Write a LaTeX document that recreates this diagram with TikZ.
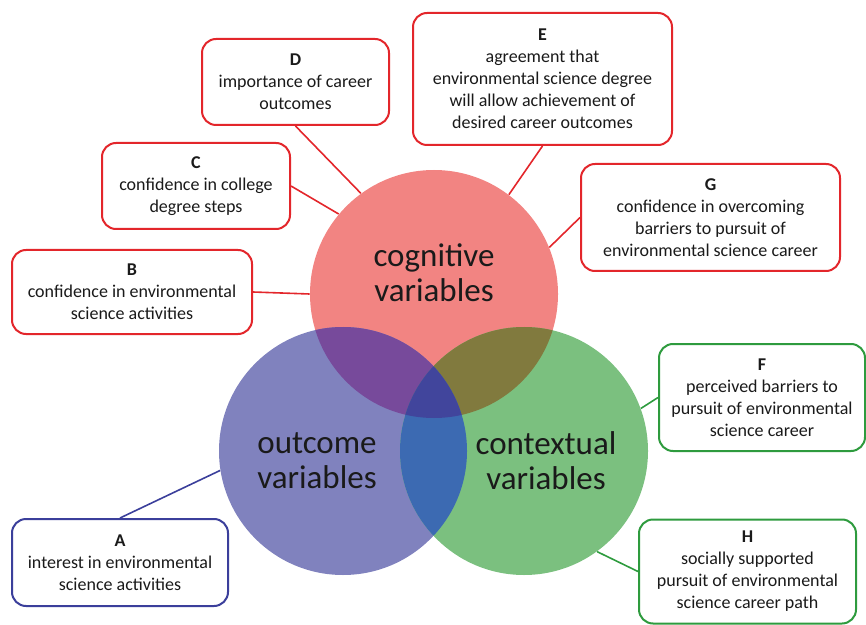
\documentclass[tikz,border=0pt]{standalone}
\usepackage{fontspec}
\setmainfont{Carlito}
\usetikzlibrary{positioning}
\definecolor{cogred}{HTML}{F28482}
\definecolor{outblue}{HTML}{8082BE}
\definecolor{ctxgreen}{HTML}{7BC07F}
\definecolor{cogout}{HTML}{774A9B}
\definecolor{cogctx}{HTML}{817A3E}
\definecolor{outctx}{HTML}{3C6AB2}
\definecolor{allthree}{HTML}{41459C}
\definecolor{redline}{HTML}{E3262B}
\definecolor{blueline}{HTML}{3B3F9B}
\definecolor{greenline}{HTML}{2E9B3E}
\definecolor{ink}{HTML}{1A1A1A}

\begin{document}
\begin{tikzpicture}[x=0.5pt,y=-0.5pt,
  varcircle/.style={circle,minimum size=124pt,inner sep=0pt},
  varlabel/.style={font=\fontsize{16.5}{17.5}\selectfont,align=center,text=ink},
  itembox/.style={draw,line width=1pt,rounded corners=7pt,fill=white,align=center,
    font=\fontsize{9}{11}\selectfont,text=ink,inner sep=0pt},
  link/.style={line width=0.8pt}]
\useasboundingbox (0,0) rectangle (866,625);

% three variable groups
\node[varcircle,fill=cogred] (cog) at (434,294) {};
\node[varcircle,fill=outblue] (outc) at (343,451) {};
\node[varcircle,fill=ctxgreen] (ctx) at (524,451) {};

% overlaps, painted region by region
\begin{scope}
  \clip (434,294) circle[radius=62pt];
  \fill[cogout] (343,451) circle[radius=62pt];
  \fill[cogctx] (524,451) circle[radius=62pt];
\end{scope}
\begin{scope}
  \clip (343,451) circle[radius=62pt];
  \fill[outctx] (524,451) circle[radius=62pt];
  \clip (434,294) circle[radius=62pt];
  \fill[allthree] (524,451) circle[radius=62pt];
\end{scope}

\node[varlabel] (coglbl) at (434,273) {cognitive\\variables};
\node[varlabel] (outlbl) at (317,461) {outcome\\variables};
\node[varlabel] (ctxlbl) at (546,461) {contextual\\variables};

% measures around the circles
\node[itembox,draw=redline,minimum width=120pt,minimum height=42pt] (B) at (132,292)
  {\textbf{B}\\confidence in environmental\\science activities};
\node[itembox,draw=redline,minimum width=94pt,minimum height=43pt] (C) at (196,186)
  {\textbf{C}\\confidence in college\\degree steps};
\node[itembox,draw=redline,minimum width=93.5pt,minimum height=43pt] (D) at (295.5,82)
  {\textbf{D}\\importance of career\\outcomes};
\node[itembox,draw=redline,minimum width=129.5pt,minimum height=66pt] (E) at (542.5,79)
  {\textbf{E}\\agreement that\\environmental science degree\\will allow achievement of\\desired career outcomes};
\node[itembox,draw=redline,minimum width=129.5pt,minimum height=53.5pt] (G) at (710.5,217.5)
  {\textbf{G}\\confidence in overcoming\\barriers to pursuit of\\environmental science career};
\node[itembox,draw=greenline,minimum width=103pt,minimum height=53.5pt] (F) at (762,397.5)
  {\textbf{F}\\perceived barriers to\\pursuit of environmental\\science career};
\node[itembox,draw=greenline,minimum width=108.5pt,minimum height=52pt] (H) at (747.5,571.5)
  {\textbf{H}\\socially supported\\pursuit of environmental\\science career path};
\node[itembox,draw=blueline,minimum width=108pt,minimum height=43.5pt] (A) at (120,562.5)
  {\textbf{A}\\interest in environmental\\science activities};

% connectors
\draw[link,redline] (B.east) -- (cog.180);
\draw[link,redline] (C.east) -- (cog.140.6);
\draw[link,redline] (D.south) -- (cog.126.8);
\draw[link,redline] (E.south) -- (cog.53.6);
\draw[link,redline] (G.west) -- (cog.22);
\draw[link,greenline] (F.west) -- (ctx.20);
\draw[link,greenline] (H.west) -- (ctx.-54);
\draw[link,blueline] (A.north) -- (outc.189);
\end{tikzpicture}
\end{document}
